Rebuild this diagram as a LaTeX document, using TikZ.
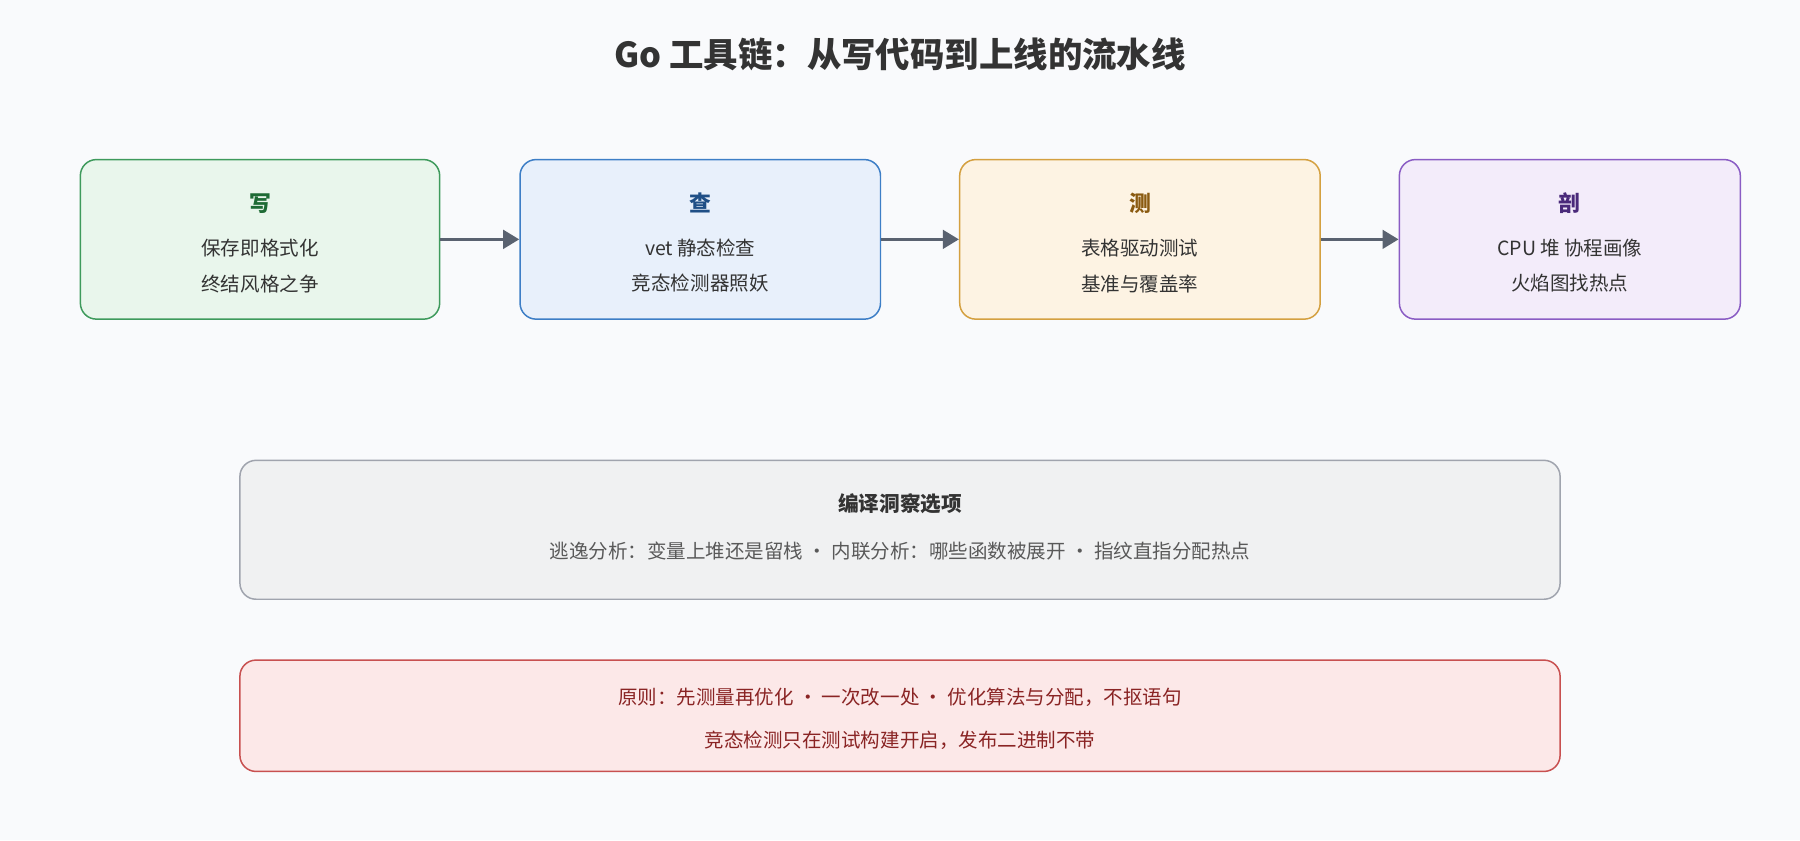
\documentclass[tikz,border=0pt]{standalone}
\usepackage{fontspec}
\setmainfont{Noto Sans CJK SC}
\usetikzlibrary{arrows.meta}
\definecolor{bg}{HTML}{F9FAFC}
\definecolor{gF}{HTML}{E9F6EC}\definecolor{gD}{HTML}{3E9A5C}\definecolor{gT}{HTML}{1E6B35}
\definecolor{bF}{HTML}{E8F0FB}\definecolor{bD}{HTML}{3D7EC6}\definecolor{bT}{HTML}{1F4F86}
\definecolor{oF}{HTML}{FDF3E3}\definecolor{oD}{HTML}{D4A040}\definecolor{oT}{HTML}{8A5A10}
\definecolor{pF}{HTML}{F3ECFA}\definecolor{pD}{HTML}{8A5CC4}\definecolor{pT}{HTML}{4A2A7A}
\definecolor{kF}{HTML}{F0F1F2}\definecolor{kD}{HTML}{A0A4AE}
\definecolor{rF}{HTML}{FCE8E8}\definecolor{rD}{HTML}{C85050}\definecolor{rT}{HTML}{8A2424}
\definecolor{txt}{HTML}{333333}\definecolor{arr}{HTML}{5A6270}
\begin{document}
\begin{tikzpicture}[x=1pt,y=-1pt,
 box/.style={rounded corners=14pt,line width=1.3pt},
 ttl/.style={font=\fontsize{19}{19}\selectfont\bfseries},
 ln/.style={font=\fontsize{17}{17}\selectfont,text=txt},
 ar/.style={arr,line width=3pt,-{Triangle[length=14pt,width=16pt]}}]
\fill[bg] (0,0) rectangle (1568,732);
\useasboundingbox (0,0) rectangle (1568,732);
\node[font=\fontsize{30}{30}\selectfont\bfseries,text=txt] (title) at (784,47) {Go 工具链：从写代码到上线的流水线};
\node[box,fill=gF,draw=gD,minimum width=313pt,minimum height=139pt] (b1) at (226.5,208.5) {};
\node[box,fill=bF,draw=bD,minimum width=314pt,minimum height=139pt] (b2) at (610,208.5) {};
\node[box,fill=oF,draw=oD,minimum width=314pt,minimum height=139pt] (b3) at (993,208.5) {};
\node[box,fill=pF,draw=pD,minimum width=297pt,minimum height=139pt] (b4) at (1367.5,208.5) {};
\node[ttl,text=gT] (t1) at (226.5,177) {写};
\node[ln] (l1a) at (226.5,216) {保存即格式化};
\node[ln] (l1b) at (226.5,247) {终结风格之争};
\node[ttl,text=bT] (t2) at (610,177) {查};
\node[ln] (l2a) at (610,216) {vet 静态检查};
\node[ln] (l2b) at (610,247) {竞态检测器照妖};
\node[ttl,text=oT] (t3) at (993,177) {测};
\node[ln] (l3a) at (993,216) {表格驱动测试};
\node[ln] (l3b) at (993,247) {基准与覆盖率};
\node[ttl,text=pT] (t4) at (1367.5,177) {剖};
\node[ln] (l4a) at (1367.5,216) {CPU 堆 协程画像};
\node[ln] (l4b) at (1367.5,247) {火焰图找热点};
\draw[ar] (b1.east) -- (b2.west);
\draw[ar] (b2.east) -- (b3.west);
\draw[ar] (b3.east) -- (b4.west);
\node[box,fill=kF,draw=kD,minimum width=1150pt,minimum height=121pt] (g) at (784,461.5) {};
\node[ttl,font=\fontsize{18}{18}\selectfont\bfseries,text=txt] (gt) at (784,439) {编译洞察选项};
\node[ln,text=black!65] (gl) at (784,480) {逃逸分析：变量上堆还是留栈 · 内联分析：哪些函数被展开 · 指纹直指分配热点};
\node[box,fill=rF,draw=rD,minimum width=1150pt,minimum height=97pt] (r) at (784,623.5) {};
\node[ln,text=rT] (r1) at (784,607) {原则：先测量再优化 · 一次改一处 · 优化算法与分配，不抠语句};
\node[ln,text=rT] (r2) at (784,645) {竞态检测只在测试构建开启，发布二进制不带};
\end{tikzpicture}
\end{document}
